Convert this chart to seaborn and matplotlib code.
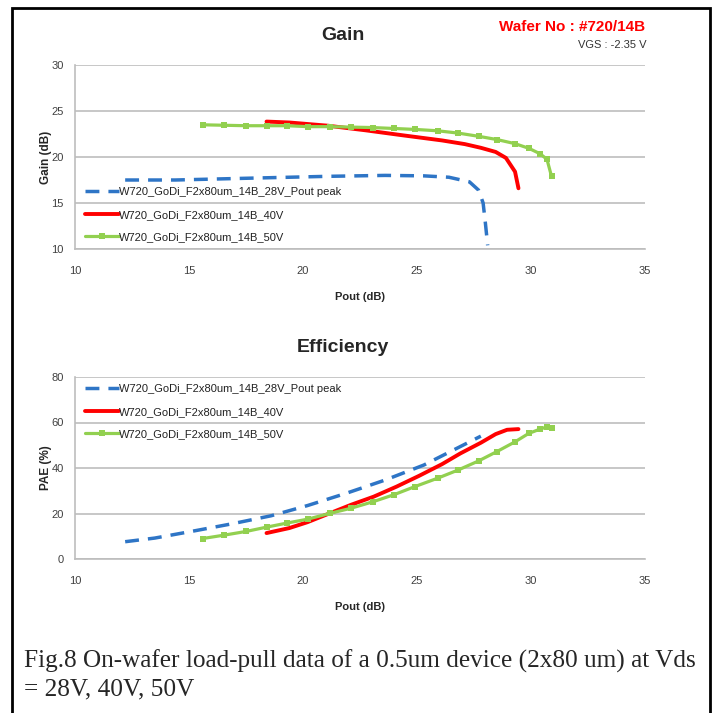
import numpy as np
import pandas as pd
import seaborn as sns
import matplotlib.pyplot as plt
from matplotlib.patches import Rectangle

# ---- data ----
labels = ["W720_GoDi_F2x80um_14B_28V_Pout peak",
          "W720_GoDi_F2x80um_14B_40V",
          "W720_GoDi_F2x80um_14B_50V"]

# 28V (blue dashed)
pout_28_gain = [12.2, 14.4, 17.7, 21.1, 23.6, 25.3, 26.4, 27.3, 27.7, 27.9, 28.0, 28.1]
gain_28 = [17.5, 17.5, 17.7, 17.9, 18.0, 17.95, 17.8, 17.3, 16.4, 15.0, 12.8, 10.4]
pout_28_pae = [12.2, 13.5, 15.2, 16.9, 18.6, 20.2, 21.9, 23.6, 25.3, 26.6, 27.8]
pae_28 = [7.6, 9.2, 12.3, 15.5, 19.0, 23.5, 28.9, 34.7, 41.3, 47.9, 54.0]

# 40V (red)
pout_40_gain = [18.4, 19.4, 21.1, 22.75, 24.4, 26.1, 27.1, 27.8, 28.45, 28.9, 29.3, 29.45]
gain_40 = [23.85, 23.75, 23.4, 22.9, 22.35, 21.8, 21.4, 21.0, 20.55, 19.9, 18.4, 16.6]
pout_40_pae = [18.4, 19.4, 20.2, 21.1, 22.1, 23.1, 24.1, 25.1, 26.1, 26.9, 27.8, 28.45, 28.95, 29.45]
pae_40 = [11.4, 13.6, 16.2, 19.8, 23.8, 27.4, 31.8, 36.6, 41.7, 46.4, 51.1, 54.9, 56.8, 57.1]

# 50V (green with markers)
pout_50 = [15.6, 16.55, 17.5, 18.4, 19.3, 20.2, 21.2, 22.1, 23.05, 24.0, 24.9,
           25.9, 26.8, 27.7, 28.5, 29.3, 29.9, 30.4, 30.7, 30.9]
gain_50 = [23.5, 23.45, 23.4, 23.4, 23.4, 23.3, 23.3, 23.25, 23.2, 23.1, 23.0,
           22.85, 22.6, 22.25, 21.9, 21.45, 20.95, 20.35, 19.75, 17.9]
pae_50 = [9.0, 10.5, 12.1, 14.0, 15.8, 17.5, 20.1, 22.3, 25.1, 28.3, 31.8,
          35.5, 39.1, 43.1, 47.2, 51.5, 55.2, 57.1, 58.1, 57.8]

x_ticks = [10, 15, 20, 25, 30, 35]
gain_ticks = [10, 15, 20, 25, 30]
pae_ticks = [0, 20, 40, 60, 80]

sns.set_theme(style="white")
plt.rcParams['font.family'] = ['Liberation Sans', 'DejaVu Sans']

blue = "#2E75C6"
red = "#FF0000"
green = "#92D050"
grid_c = "#BDBDBD"
tick_c = "#404040"

fig = plt.figure(figsize=(7.13, 7.13), dpi=100)
W = H = 713.0


def px_axes(left, top, right, bottom):
    return fig.add_axes([left / W, 1 - bottom / H, (right - left) / W, (bottom - top) / H])


ax1 = px_axes(75, 65, 645, 249)
ax2 = px_axes(75, 377, 645, 559)


def draw(ax, xs, ys, yticks, ylim, ylabel):
    (x28, y28), (x40, y40), (x50, y50) = zip(xs, ys)
    sns.lineplot(x=x28, y=y28, ax=ax, color=blue, lw=2.5, sort=False,
                 dashes=False, label=labels[0]).lines[-1].set_dashes([4, 2.6])
    sns.lineplot(x=x40, y=y40, ax=ax, color=red, lw=2.8, sort=False, label=labels[1])
    sns.lineplot(x=x50, y=y50, ax=ax, color=green, lw=2.3, sort=False, marker="s",
                 markersize=4.0, markeredgewidth=0, label=labels[2])
    ax.set_xlim(10, 35)
    ax.set_ylim(*ylim)
    ax.set_xticks(x_ticks)
    ax.set_yticks(yticks)
    ax.grid(axis="y", color=grid_c, lw=1.2)
    ax.set_axisbelow(True)
    for s in ["top", "right"]:
        ax.spines[s].set_visible(False)
    for s in ["left", "bottom"]:
        ax.spines[s].set_color(grid_c)
        ax.spines[s].set_linewidth(1.2)
    ax.tick_params(axis="x", length=0, labelsize=8, colors=tick_c, pad=12)
    ax.tick_params(axis="y", length=0, labelsize=8, colors=tick_c, pad=8)
    ax.set_xlabel("Pout (dB)", fontsize=8, fontweight="bold", labelpad=12)
    ax.set_ylabel(ylabel, fontsize=8.5, fontweight="bold", labelpad=0)


draw(ax1, [pout_28_gain, pout_40_gain, pout_50], [gain_28, gain_40, gain_50],
     gain_ticks, (10, 30), "Gain (dB)")
draw(ax2, [pout_28_pae, pout_40_pae, pout_50], [pae_28, pae_40, pae_50],
     pae_ticks, (0, 80), "PAE (%)")

for ax, anchor in [(ax1, (0.012, 0.354)), (ax2, (0.012, 0.979))]:
    leg = ax.legend(loc="upper left", bbox_to_anchor=anchor, frameon=False, fontsize=8,
                    handlelength=3.0, handletextpad=0.05, labelspacing=1.13,
                    borderaxespad=0.0, borderpad=0.3)
    for t in leg.get_texts():
        t.set_color("#222222")

fig.text(343 / W, 1 - 35 / H, "Gain", ha="center", va="center", fontsize=14, fontweight="bold")
fig.text(343 / W, 1 - 347 / H, "Efficiency", ha="center", va="center", fontsize=14,
         fontweight="bold")
fig.text(572 / W, 1 - 27 / H, "Wafer No : #720/14B", ha="center", va="center",
         fontsize=11, fontweight="bold", color="#FF0000")
fig.text(646 / W, 1 - 45 / H, "VGS : -2.35 V", ha="right", va="center", fontsize=8,
         color="#333333")

fig.text(24 / W, 1 - 675 / H, "Fig.8 On-wafer load-pull data of a 0.5um device (2x80 um) at Vds\n= 28V, 40V, 50V",
         ha="left", va="center", fontsize=18.2, family="Liberation Serif", linespacing=1.35)

fig.patches.append(Rectangle((12 / W, -0.01), 698 / W, 1 - 8 / H + 0.01,
                             transform=fig.transFigure, fill=False, lw=2, ec="black"))

plt.savefig("out.png", dpi=100)
